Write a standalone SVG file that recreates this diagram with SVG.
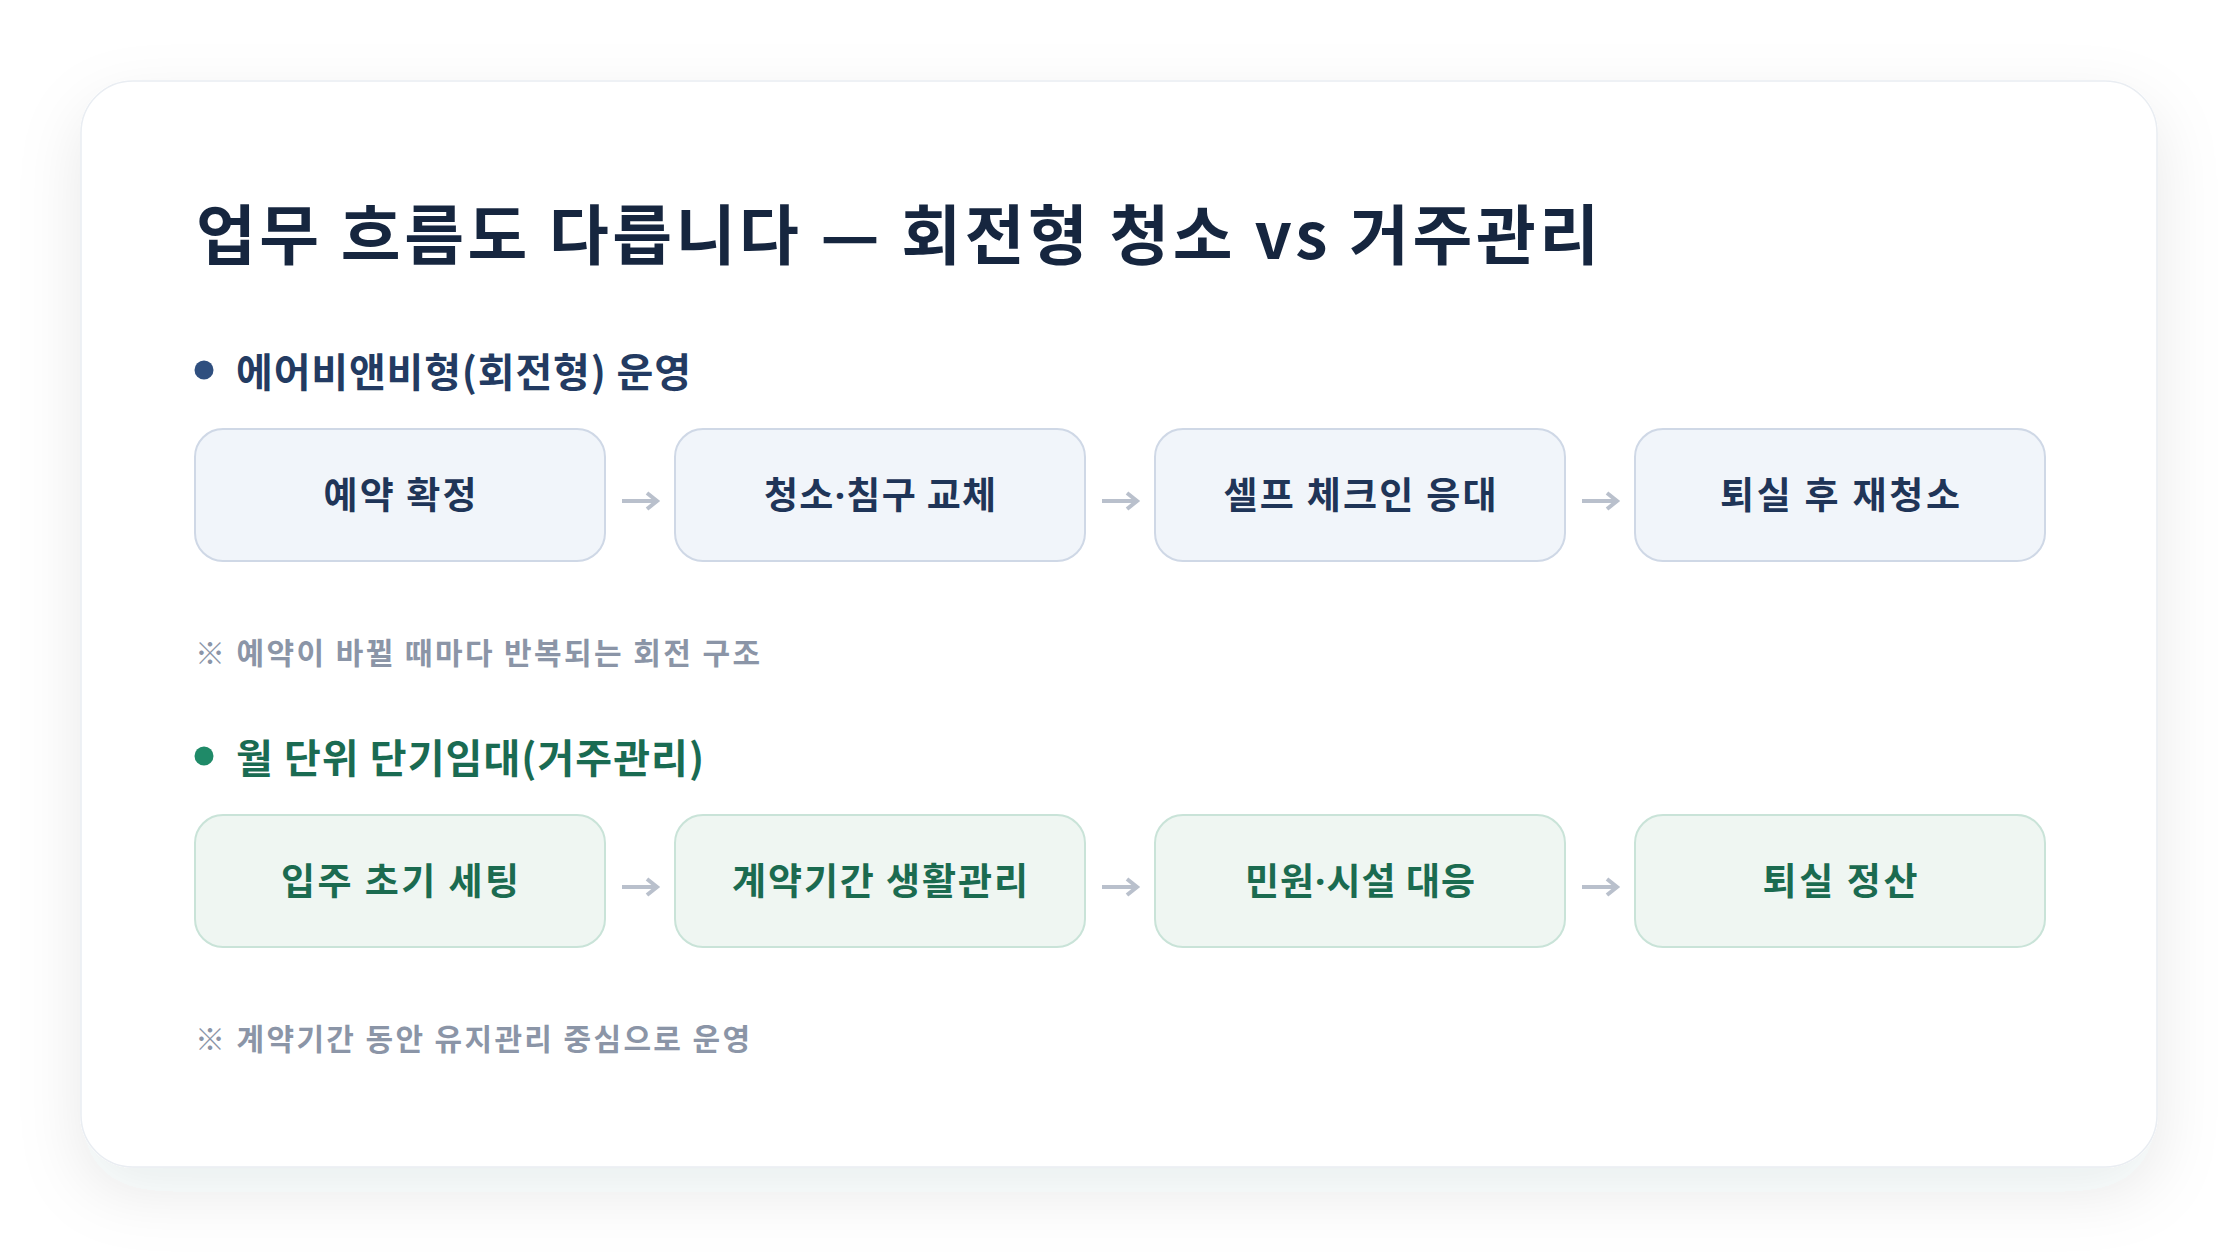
<svg xmlns="http://www.w3.org/2000/svg" width="2240" height="1252" viewBox="0 0 2240 1252">
<defs>
<filter id="shadow" x="-10%" y="-10%" width="120%" height="130%">
<feDropShadow dx="0" dy="24" stdDeviation="32" flood-color="#1e2a3c" flood-opacity="0.09"/>
</filter>
<style>
text{font-family:"Noto Sans CJK KR","Noto Sans",sans-serif;font-weight:700}
.dot{font-family:"Noto Sans",sans-serif}
.title{font-size:65px;fill:#16263f}
.h1{font-size:40px;fill:#233b62}
.h2{font-size:40px;fill:#1a6b52}
.note{font-size:30px;fill:#8b95a7}
.b1 rect{fill:#f1f5fa;stroke:#cfd8e6;stroke-width:2}
.b1 text{font-size:37px;fill:#1f3558;text-anchor:middle}
.b2 rect{fill:#eff6f2;stroke:#c9e3d8;stroke-width:2}
.b2 text{font-size:37px;fill:#1b6b50;text-anchor:middle}
.arr{fill:none;stroke:#b9c0cc;stroke-width:4;stroke-linecap:butt;stroke-linejoin:miter}
</style>
</defs>
<rect width="2240" height="1252" fill="#ffffff"/>
<rect x="81" y="81" width="2076" height="1086" rx="52" fill="#ffffff" stroke="#e9edf2" stroke-width="1.5" filter="url(#shadow)"/>
<text class="title" x="196" y="259" textLength="1403" lengthAdjust="spacing">업무 흐름도 다릅니다 — 회전형 청소 vs 거주관리</text>
<g id="heading1">
<circle cx="204" cy="370" r="9.5" fill="#2f4f7f"/>
<text class="h1" x="236" y="387" textLength="455" lengthAdjust="spacing">에어비앤비형(회전형) 운영</text>
</g>
<g id="n1" class="b1"><rect x="195" y="429" width="410" height="132" rx="28"/><text x="400" y="509" textLength="153" lengthAdjust="spacing">예약 확정</text></g>
<g id="n2" class="b1"><rect x="675" y="429" width="410" height="132" rx="28"/><text x="880" y="509" textLength="232" lengthAdjust="spacing">청소<tspan class="dot">·</tspan>침구 교체</text></g>
<g id="n3" class="b1"><rect x="1155" y="429" width="410" height="132" rx="28"/><text x="1360" y="509" textLength="273" lengthAdjust="spacing">셀프 체크인 응대</text></g>
<g id="n4" class="b1"><rect x="1635" y="429" width="410" height="132" rx="28"/><text x="1840" y="509" textLength="240" lengthAdjust="spacing">퇴실 후 재청소</text></g>
<text class="note" x="195" y="664" textLength="565" lengthAdjust="spacing">※ 예약이 바뀔 때마다 반복되는 회전 구조</text>
<g id="heading2">
<circle cx="204" cy="756" r="9.5" fill="#1f8a68"/>
<text class="h2" x="236" y="773" textLength="468" lengthAdjust="spacing">월 단위 단기임대(거주관리)</text>
</g>
<g id="m1" class="b2"><rect x="195" y="815" width="410" height="132" rx="28"/><text x="400" y="895" textLength="238" lengthAdjust="spacing">입주 초기 세팅</text></g>
<g id="m2" class="b2"><rect x="675" y="815" width="410" height="132" rx="28"/><text x="880" y="895" textLength="296" lengthAdjust="spacing">계약기간 생활관리</text></g>
<g id="m3" class="b2"><rect x="1155" y="815" width="410" height="132" rx="28"/><text x="1360" y="895" textLength="230" lengthAdjust="spacing">민원<tspan class="dot">·</tspan>시설 대응</text></g>
<g id="m4" class="b2"><rect x="1635" y="815" width="410" height="132" rx="28"/><text x="1840" y="895" textLength="155" lengthAdjust="spacing">퇴실 정산</text></g>
<text class="note" x="195" y="1050" textLength="555" lengthAdjust="spacing">※ 계약기간 동안 유지관리 중심으로 운영</text>
<g id="connectors">
<path class="arr" d="M622 501H656M647 493L657 501L647 509"/>
<path class="arr" d="M1102 501H1136M1127 493L1137 501L1127 509"/>
<path class="arr" d="M1582 501H1616M1607 493L1617 501L1607 509"/>
<path class="arr" d="M622 887H656M647 879L657 887L647 895"/>
<path class="arr" d="M1102 887H1136M1127 879L1137 887L1127 895"/>
<path class="arr" d="M1582 887H1616M1607 879L1617 887L1607 895"/>
</g>
</svg>
